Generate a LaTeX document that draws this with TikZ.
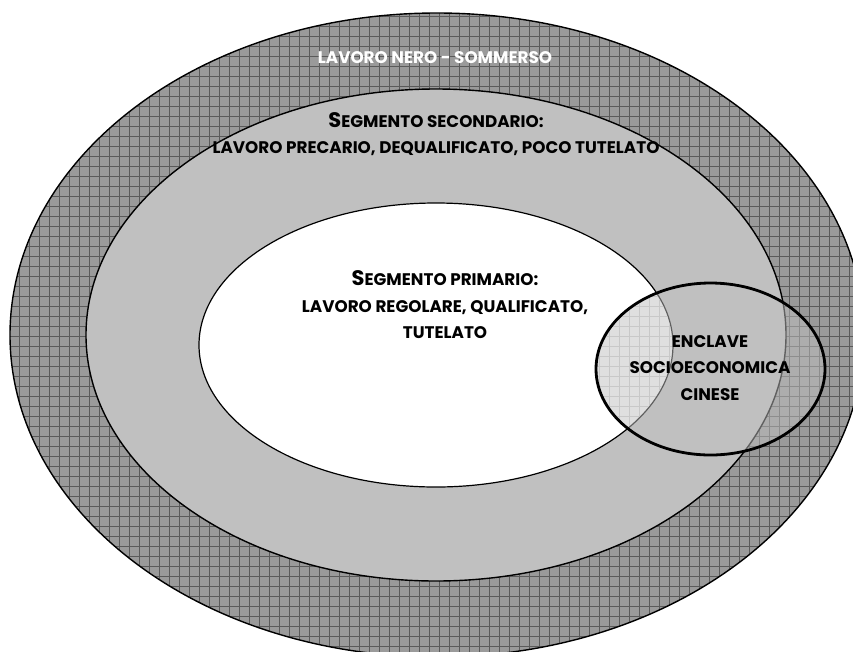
\documentclass[tikz,border=0pt]{standalone}
\usepackage{fontspec}
\setmainfont{Poppins}
\usetikzlibrary{positioning}
\definecolor{nerogray}{HTML}{9A9A9A}
\definecolor{nerogrid}{HTML}{5A5A5A}
\definecolor{secgray}{HTML}{C0C0C0}
\definecolor{enclgrid}{HTML}{C8C8C8}
\newcommand{\bigS}{{\fontsize{21}{21}\selectfont S}}

\tikzset{
  areatext/.style={font=\bfseries\fontsize{16.8}{26.5}\selectfont, align=center, inner sep=0pt},
  nerotext/.style={areatext, text=white},
  nerogrid/.style={draw=nerogrid, line width=0.6pt},
}

\begin{document}
\begin{tikzpicture}[x=1pt, y=-1pt]
    \useasboundingbox (0,0) rectangle (853,651);
    \coordinate (cnero) at (437,335);
    \coordinate (csec) at (436,335);
    \coordinate (cpri) at (436,345);
    \coordinate (cenc) at (710.5,369);

    \fill[nerogray] (cnero) ellipse [x radius=427, y radius=322];
    \begin{scope}
        \clip (cnero) ellipse [x radius=427, y radius=322];
        \draw[nerogrid, shift={(-0.7,-3.3)}] (0,0) grid[step=10pt] (870,670);
    \end{scope}
    \draw[line width=1.4pt] (cnero) ellipse [x radius=427, y radius=322];

    \filldraw[fill=secgray, line width=1.4pt] (csec) ellipse [x radius=350, y radius=246];
    \filldraw[fill=white, line width=1.2pt] (cpri) ellipse [x radius=237, y radius=142];

    \fill[secgray, opacity=0.5] (cenc) ellipse [x radius=114.5, y radius=86];
    \begin{scope}
        \clip (cenc) ellipse [x radius=114.5, y radius=86];
        \clip (cpri) ellipse [x radius=236, y radius=141];
        \draw[enclgrid, line width=0.6pt, shift={(-0.7,-3.3)}] (0,0) grid[step=10pt] (870,670);
    \end{scope}
    \draw[line width=2.8pt] (cenc) ellipse [x radius=114.5, y radius=86];

    \node[nerotext] (nero) at (435,58) {LAVORO NERO - SOMMERSO};
    \node[areatext] (secondario) at (436,134) {\bigS EGMENTO SECONDARIO:\\LAVORO PRECARIO, DEQUALIFICATO, POCO TUTELATO};
    \node[areatext] (primario) at (445,305) {\bigS EGMENTO PRIMARIO:\\LAVORO REGOLARE, QUALIFICATO,\\TUTELATO};
    \node[areatext] (enclave) at (710,368) {ENCLAVE\\SOCIOECONOMICA\\CINESE};
\end{tikzpicture}
\end{document}
